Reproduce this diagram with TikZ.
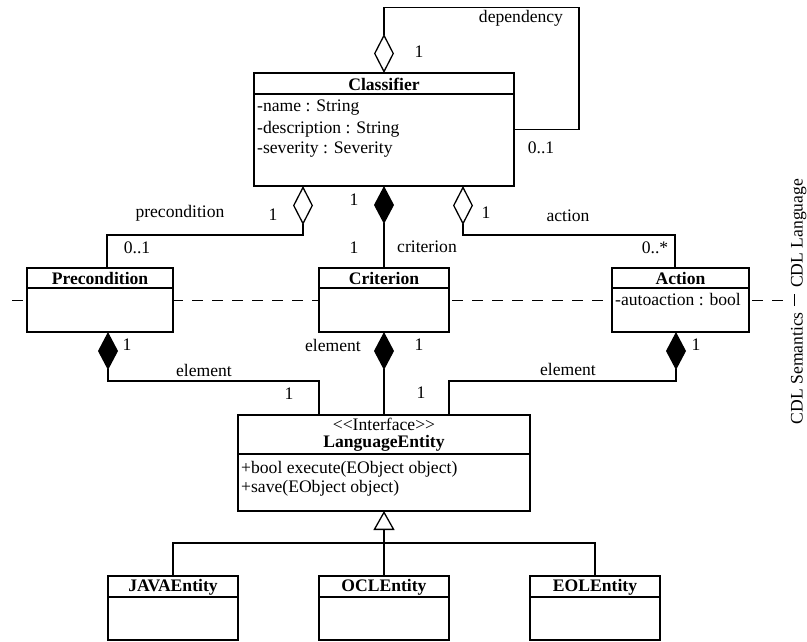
\documentclass[tikz,border=0pt]{standalone}
\usepackage{fontspec}
\setmainfont{Liberation Serif}
\usetikzlibrary{arrows.meta}
\begin{document}
\begin{tikzpicture}[x=1pt,y=-1pt,
  every node/.style={font=\fontsize{17.6}{21}\selectfont},
  box/.style={draw, fill=white, line width=1.3pt, rectangle, anchor=north west,
    inner sep=0pt, outer sep=0pt},
  title/.style={font=\fontsize{17.6}{21}\selectfont\bfseries, inner sep=0pt},
  lbl/.style={inner sep=0pt},
  attr/.style={inner sep=0pt, anchor=west},
  conn/.style={line width=1.3pt},
  aggr/.style={conn, {Diamond[open, length=39pt, width=20pt]}-},
  comp/.style={conn, {Diamond[length=38pt, width=20pt]}-},
  gen/.style={conn, -{Triangle[open, length=19pt, width=21pt]}},
  divider/.style={line width=1pt, dash pattern=on 11pt off 9pt}]

\fill[white] (0,0) rectangle (807,641);
\useasboundingbox (0,0) rectangle (807,641);

% layer divider between language and semantics
\coordinate (divL) at (12,300);
\coordinate (divR) at (784,300);
\draw[divider] (divL) -- (divR);
\coordinate (sepT) at (794,294);
\coordinate (sepB) at (794,306);
\draw[line width=0.9pt] (sepT) -- (sepB);
\node[lbl, rotate=90, anchor=base west] (langL) at (802.5,288) {CDL Language};
\node[lbl, rotate=90, anchor=base east] (semL) at (802.5,312) {CDL Semantics};

% Classifier
\node[box, minimum width=260pt, minimum height=113pt] (cls) at (254,73) {};
\draw[conn] ([yshift=-21pt]cls.north west) -- ([yshift=-21pt]cls.north east);
\node[title] (clsT) at ([yshift=-11pt]cls.north) {Classifier};
\node[attr] (clsA1) at (257,108) {-name : String};
\node[attr] (clsA2) at (257,129) {-description : String};
\node[attr] (clsA3) at (257,150) {-severity : Severity};

% Precondition, Criterion, Action
\node[box, minimum width=146pt, minimum height=64pt] (pre) at (27,268) {};
\draw[conn] ([yshift=-20pt]pre.north west) -- ([yshift=-20pt]pre.north east);
\node[title] (preT) at ([yshift=-10.5pt]pre.north) {Precondition};

\node[box, minimum width=130pt, minimum height=64pt] (crit) at (319,268) {};
\draw[conn] ([yshift=-20pt]crit.north west) -- ([yshift=-20pt]crit.north east);
\node[title] (critT) at ([yshift=-10.5pt]crit.north) {Criterion};

\node[box, minimum width=137pt, minimum height=64pt] (act) at (612,268) {};
\draw[conn] ([yshift=-20pt]act.north west) -- ([yshift=-20pt]act.north east);
\node[title] (actT) at ([yshift=-10.5pt]act.north) {Action};
\node[attr] (actA1) at (615,300) {-autoaction : bool};

% LanguageEntity interface
\node[box, minimum width=292pt, minimum height=96pt] (le) at (238,415) {};
\draw[conn] ([yshift=-39pt]le.north west) -- ([yshift=-39pt]le.north east);
\node[lbl] (leS) at (384,424) {<\kern0pt<Interface>\kern0pt>};
\node[title] (leT) at (384,443) {LanguageEntity};
\node[attr] (leM1) at (241,469) {+bool execute(EObject object)};
\node[attr] (leM2) at (241,488) {+save(EObject object)};

% concrete entities
\node[box, minimum width=130pt, minimum height=64pt] (java) at (108,576) {};
\draw[conn] ([yshift=-21pt]java.north west) -- ([yshift=-21pt]java.north east);
\node[title] (javaT) at ([yshift=-11pt]java.north) {JAVAEntity};

\node[box, minimum width=130pt, minimum height=64pt] (ocl) at (319,576) {};
\draw[conn] ([yshift=-21pt]ocl.north west) -- ([yshift=-21pt]ocl.north east);
\node[title] (oclT) at ([yshift=-11pt]ocl.north) {OCLEntity};

\node[box, minimum width=130pt, minimum height=64pt] (eol) at (530,576) {};
\draw[conn] ([yshift=-21pt]eol.north west) -- ([yshift=-21pt]eol.north east);
\node[title] (eolT) at ([yshift=-11pt]eol.north) {EOLEntity};

% associations of Classifier
\coordinate (depTR) at (579,7.5);
\draw[aggr] (cls.north) |- (depTR) |- (cls.east);
\draw[aggr] ([xshift=-81pt]cls.south) -- ++(0,49) -| ([xshift=7pt]pre.north);
\draw[comp] (cls.south) -- (crit.north);
\draw[aggr] ([xshift=79pt]cls.south) -- ++(0,49) -| ([xshift=-5.5pt]act.north);

% element compositions
\draw[comp] ([xshift=8pt]pre.south) -- ++(0,49) -| ([xshift=-65pt]le.north);
\draw[comp] (crit.south) -- (le.north);
\draw[comp] ([xshift=-4.5pt]act.south) -- ++(0,49) -| ([xshift=65pt]le.north);

% generalization
\draw[gen] (ocl.north) -- (le.south);
\draw[conn] (java.north) -- ++(0,-33) -| (eol.north);

% role names and multiplicities
\node[lbl] (depN) at (521,18) {dependency};
\node[lbl] (depM1) at (419,52) {1};
\node[lbl] (depM2) at (541,148) {0..1};
\node[lbl] (preN) at (180,213) {precondition};
\node[lbl] (preM1) at (273,215) {1};
\node[lbl] (preM2) at (137,248) {0..1};
\node[lbl] (critM1) at (354,200) {1};
\node[lbl] (critM2) at (354,248) {1};
\node[lbl] (critN) at (427,247) {criterion};
\node[lbl] (actM1) at (486,213) {1};
\node[lbl] (actN) at (568,216) {action};
\node[lbl] (actM2) at (655,248) {0..*};
\node[lbl] (elPM1) at (127,345) {1};
\node[lbl] (elPN) at (204,370) {element};
\node[lbl] (elPM2) at (289,394) {1};
\node[lbl] (elCN) at (333,345) {element};
\node[lbl] (elCM1) at (419,345) {1};
\node[lbl] (elAM1) at (696,345) {1};
\node[lbl] (elAN) at (568,369) {element};
\node[lbl] (elAM2) at (421,393) {1};
\end{tikzpicture}
\end{document}
